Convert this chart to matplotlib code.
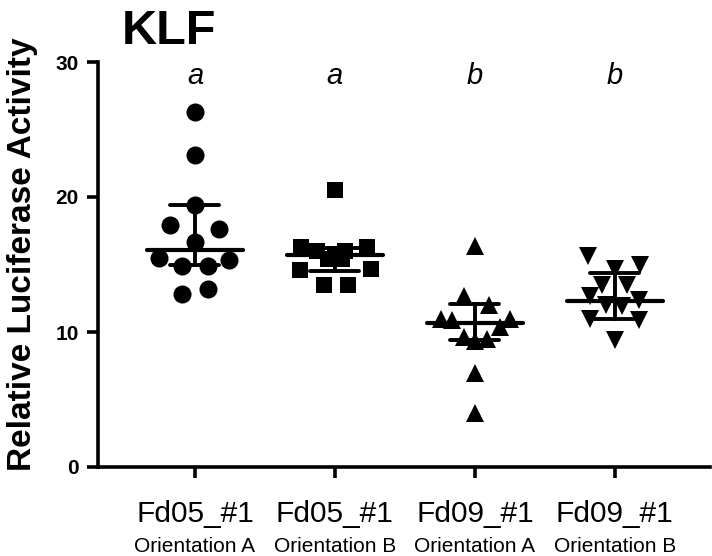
import matplotlib
matplotlib.use("Agg")
import matplotlib.pyplot as plt
import matplotlib.transforms as mtransforms

plt.rcParams['font.family'] = ['Liberation Sans', 'DejaVu Sans']

# ---- data ----
strains = ["Fd05_#1", "Fd05_#1", "Fd09_#1", "Fd09_#1"]
orientations = ["Orientation A", "Orientation B", "Orientation A", "Orientation B"]
letters = ["a", "a", "b", "b"]

g1_vals = [26.3, 23.1, 19.4, 17.9, 17.6, 16.7, 15.5, 14.9, 14.9, 15.3, 12.8, 13.2]
g1_jit = [0.0, 0.0, 0.0, -0.18, 0.17, 0.0, -0.26, -0.09, 0.09, 0.24, -0.09, 0.09]
g2_vals = [20.5, 16.3, 16.0, 16.0, 16.3, 15.8, 15.4, 15.4, 14.6, 14.7, 13.5, 13.5]
g2_jit = [0.0, -0.24, -0.13, 0.07, 0.23, 0.0, -0.05, 0.05, -0.25, 0.26, -0.08, 0.09]
g3_vals = [16.4, 12.7, 12.0, 11.0, 10.9, 11.0, 10.4, 9.6, 9.5, 9.3, 7.0, 4.0]
g3_jit = [0.0, -0.08, 0.10, -0.24, -0.16, 0.25, 0.18, -0.08, 0.09, 0.0, 0.0, 0.0]
g4_vals = [15.6, 14.7, 15.0, 13.5, 13.5, 12.7, 12.0, 11.9, 12.4, 11.0, 10.9, 9.4]
g4_jit = [-0.19, 0.0, 0.18, -0.09, 0.09, -0.18, -0.06, 0.05, 0.17, -0.18, 0.17, 0.0]

medians = [16.1, 15.7, 10.7, 12.3]
q1 = [15.0, 14.5, 9.4, 11.0]
q3 = [19.4, 16.2, 12.1, 14.4]

yticks = [0, 10, 20, 30]
ytick_labels = ["0", "10", "20", "30"]

groups = [(g1_vals, g1_jit, 'o', 13.0),
          (g2_vals, g2_jit, 's', 12.0),
          (g3_vals, g3_jit, '^', 13.5),
          (g4_vals, g4_jit, 'v', 13.5)]

fig = plt.figure(figsize=(7.12, 5.56), dpi=100)
ax = fig.add_axes([98/712, 89/556, (710-98)/712, (467-62)/556])

for i, (vals, jit, mk, ms) in enumerate(groups):
    xs = [i + j for j in jit]
    ax.plot(xs, vals, linestyle='none', marker=mk, markersize=ms,
            color='black', markeredgewidth=0, zorder=3)
    # median line
    ax.plot([i - 0.345, i + 0.345], [medians[i], medians[i]], color='black',
            lw=3.0, solid_capstyle='round', zorder=4)
    # interquartile range
    ax.plot([i, i], [q1[i], q3[i]], color='black', lw=2.8, zorder=4)
    for q in (q1[i], q3[i]):
        ax.plot([i - 0.175, i + 0.175], [q, q], color='black', lw=2.8,
                solid_capstyle='round', zorder=4)
    ax.text(i, 29.0, letters[i], ha='center', va='center', fontsize=21,
            style='italic')

ax.set_xlim(-0.693, 3.68)
ax.set_ylim(0, 30)
ax.set_yticks(yticks)
ax.set_yticklabels(ytick_labels, fontsize=15, fontweight='bold')
ax.set_xticks(range(4))
ax.set_xticklabels(strains, fontsize=21.5)
for sp in ('top', 'right'):
    ax.spines[sp].set_visible(False)
for sp in ('left', 'bottom'):
    ax.spines[sp].set_linewidth(2.6)
ax.tick_params(axis='both', width=2.6, length=8, color='black')
ax.tick_params(axis='y', pad=6)
ax.tick_params(axis='x', pad=16)

trans = mtransforms.blended_transform_factory(ax.transData, fig.transFigure)
for i, o in enumerate(orientations):
    fig.text(i, (556-546)/556, o, transform=trans, ha='center', va='center',
             fontsize=15)

ax.set_ylabel("Relative Luciferase Activity", fontsize=24, fontweight='bold')
ax.yaxis.set_label_coords(-0.098, 0.526)
fig.text(122/712, (556-32)/556, "KLF", fontsize=35, fontweight='bold',
         ha='left', va='center')

fig.savefig("out.png", dpi=100)
